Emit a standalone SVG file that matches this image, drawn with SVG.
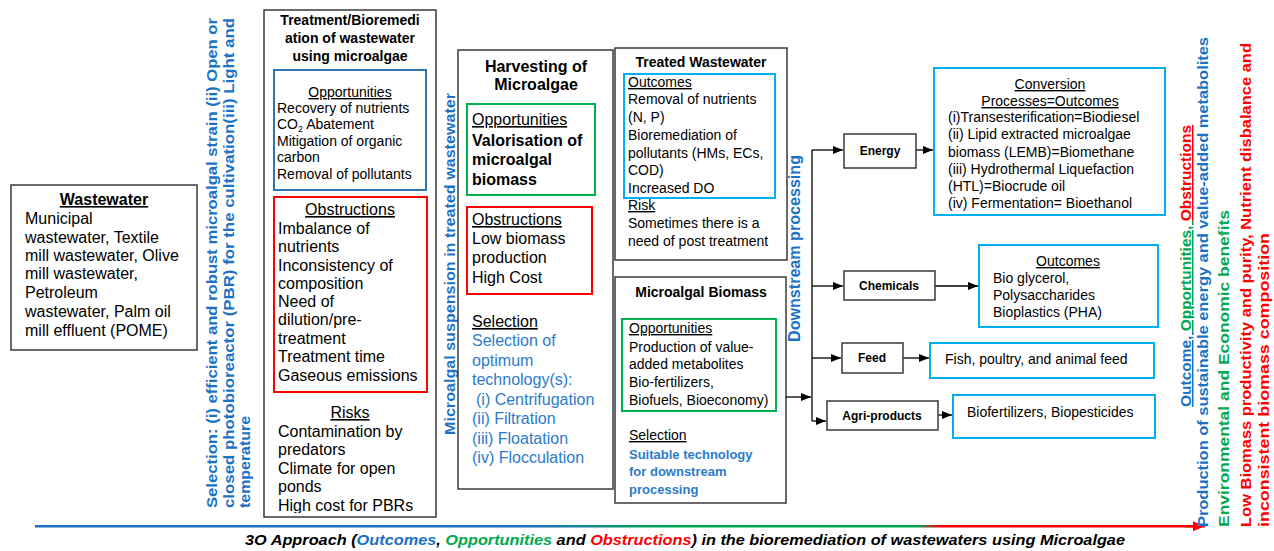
<svg xmlns="http://www.w3.org/2000/svg" width="1274" height="551" viewBox="0 0 1274 551">
<style>
text{font-family:"Liberation Sans",Arial,sans-serif;fill:#000}
.b{font-weight:bold}
.u{text-decoration:underline}
.c{text-anchor:middle}
.f14{font-size:14px}
.f16{font-size:16px}
.box{fill:#fff;stroke:#3a3a3a;stroke-width:1.5}
.bb{fill:none;stroke:#2e75b6;stroke-width:2}
.rb{fill:none;stroke:#ff0000;stroke-width:2}
.gb{fill:none;stroke:#00b050;stroke-width:2}
.cb{fill:#fff;stroke:#00b0f0;stroke-width:2}
.bt{fill:#2b7bcb}
.vb{fill:#1a72c6;font-weight:bold}
.vg{fill:#00a94f;font-weight:bold}
.vr{fill:#ff0000;font-weight:bold}
.con{stroke:#000;stroke-width:1.3;fill:none}
</style>
<defs>
<marker id="ah" markerUnits="userSpaceOnUse" markerWidth="10" markerHeight="8" refX="10" refY="4" orient="auto"><path d="M0,0 L10,4 L0,8 z" fill="#000"/></marker>
<marker id="rah" markerUnits="userSpaceOnUse" markerWidth="12" markerHeight="10" refX="12" refY="5" orient="auto"><path d="M0,0 L12,5 L0,10 z" fill="#ff0000"/></marker>
<linearGradient id="bg" gradientUnits="userSpaceOnUse" x1="35" y1="0" x2="1195" y2="0">
<stop offset="0" stop-color="#1f6fc5"/><stop offset="0.42" stop-color="#1f6fc5"/><stop offset="0.55" stop-color="#00a94f"/><stop offset="0.76" stop-color="#00a94f"/><stop offset="0.78" stop-color="#ff0000"/><stop offset="1" stop-color="#ff0000"/>
</linearGradient>
<clipPath id="tclip"><rect x="264" y="10" width="172" height="503"/></clipPath>
</defs>

<g id="wastewater">
<rect class="box" x="11" y="185" width="186" height="165"/>
<text class="b u c f16" x="104" y="205">Wastewater</text>
<text class="f16" x="25" y="224">Municipal</text>
<text class="f16" x="25" y="243">wastewater, Textile</text>
<text class="f16" x="25" y="261">mill wastewater, Olive</text>
<text class="f16" x="25" y="279">mill wastewater,</text>
<text class="f16" x="25" y="298">Petroleum</text>
<text class="f16" x="25" y="317">wastewater, Palm oil</text>
<text class="f16" x="25" y="336">mill effluent (POME)</text>
</g>

<g id="selection-label">
<text class="vb" font-size="14" transform="translate(217,508) rotate(-90)" textLength="490" lengthAdjust="spacingAndGlyphs">Selection: (i) efficient and robust microalgal strain (ii) Open or</text>
<text class="vb" font-size="14" transform="translate(234,508) rotate(-90)" textLength="490" lengthAdjust="spacingAndGlyphs">closed photobioreactor (PBR) for the cultivation(iii) Light and</text>
<text class="vb" font-size="14" transform="translate(250,508) rotate(-90)" textLength="92" lengthAdjust="spacingAndGlyphs">temperature</text>
</g>

<g id="treatment">
<rect class="box" x="264" y="10" width="172" height="507"/>
<text class="b c f14" x="350" y="25">Treatment/Bioremedi</text>
<text class="b c f14" x="350" y="43">ation of wastewater</text>
<text class="b c f14" x="350" y="61">using microalgae</text>
<rect class="bb" x="274" y="70" width="152" height="120"/>
<text class="u c f14" x="350" y="97">Opportunities</text>
<text class="f14" x="277" y="113">Recovery of nutrients</text>
<text class="f14" x="277" y="129">CO<tspan font-size="9" dy="3">2</tspan><tspan dy="-3"> Abatement</tspan></text>
<text class="f14" x="277" y="146">Mitigation of organic</text>
<text class="f14" x="277" y="162">carbon</text>
<text class="f14" x="277" y="179">Removal of pollutants</text>
<rect class="rb" x="274" y="197" width="153" height="195"/>
<text class="u c f16" x="350" y="215">Obstructions</text>
<text class="f16" x="278" y="234">Imbalance of</text>
<text class="f16" x="278" y="252">nutrients</text>
<text class="f16" x="278" y="271">Inconsistency of</text>
<text class="f16" x="278" y="289">composition</text>
<text class="f16" x="278" y="307">Need of</text>
<text class="f16" x="278" y="325">dilution/pre-</text>
<text class="f16" x="278" y="344">treatment</text>
<text class="f16" x="278" y="362">Treatment time</text>
<text class="f16" x="278" y="381">Gaseous emissions</text>
<text class="u c f16" x="350" y="418">Risks</text>
<text class="f16" x="278" y="437">Contamination by</text>
<text class="f16" x="278" y="455">predators</text>
<text class="f16" x="278" y="474">Climate for open</text>
<text class="f16" x="278" y="492">ponds</text>
<text class="f16" x="278" y="511" clip-path="url(#tclip)">High cost for PBRs</text>
</g>

<g id="suspension-label">
<text class="vb" font-size="14" transform="translate(455,435) rotate(-90)" textLength="342" lengthAdjust="spacingAndGlyphs">Microalgal suspension in treated wastewater</text>
</g>

<g id="harvesting">
<rect class="box" x="458" y="50" width="155" height="439"/>
<text class="b c f16" x="536" y="72">Harvesting of</text>
<text class="b c f16" x="536" y="90">Microalgae</text>
<rect class="gb" x="467" y="104" width="128" height="91"/>
<text class="u f16" x="472" y="125">Opportunities</text>
<text class="b f16" x="472" y="146">Valorisation of</text>
<text class="b f16" x="472" y="165">microalgal</text>
<text class="b f16" x="472" y="185">biomass</text>
<rect class="rb" x="467" y="207" width="125" height="87"/>
<text class="u f16" x="472" y="225">Obstructions</text>
<text class="f16" x="472" y="244">Low biomass</text>
<text class="f16" x="472" y="263">production</text>
<text class="f16" x="472" y="283">High Cost</text>
<text class="u f16" x="472" y="327">Selection</text>
<text class="bt f16" x="472" y="346">Selection of</text>
<text class="bt f16" x="472" y="366">optimum</text>
<text class="bt f16" x="472" y="385">technology(s):</text>
<text class="bt f16" x="476" y="405">(i) Centrifugation</text>
<text class="bt f16" x="472" y="424">(ii) Filtration</text>
<text class="bt f16" x="472" y="444">(iii) Floatation</text>
<text class="bt f16" x="472" y="463">(iv) Flocculation</text>
</g>

<g id="treated-wastewater">
<rect class="box" x="615" y="48" width="172" height="212"/>
<text class="b c f14" x="701" y="67">Treated Wastewater</text>
<rect class="cb" x="624" y="74" width="151" height="124"/>
<text class="u f14" x="628" y="87">Outcomes</text>
<text class="f14" x="628" y="104">Removal of nutrients</text>
<text class="f14" x="628" y="122">(N, P)</text>
<text class="f14" x="628" y="140">Bioremediation of</text>
<text class="f14" x="628" y="158">pollutants (HMs, ECs,</text>
<text class="f14" x="628" y="175">COD)</text>
<text class="f14" x="628" y="193">Increased DO</text>
<text class="u f14" x="628" y="210">Risk</text>
<text class="f14" x="628" y="228">Sometimes there is a</text>
<text class="f14" x="628" y="246">need of post treatment</text>
</g>

<g id="microalgal-biomass">
<rect class="box" x="615" y="277" width="171" height="226"/>
<text class="b c f14" x="701" y="297">Microalgal Biomass</text>
<rect class="gb" x="622" y="319" width="154" height="92"/>
<text class="u f14" x="629" y="333">Opportunities</text>
<text class="f14" x="629" y="352">Production of value-</text>
<text class="f14" x="629" y="369">added metabolites</text>
<text class="f14" x="629" y="387">Bio-fertilizers,</text>
<text class="f14" x="629" y="405">Biofuels, Bioeconomy)</text>
<text class="u f14" x="629" y="440">Selection</text>
<text class="bt b" font-size="13" x="629" y="459">Suitable technology</text>
<text class="bt b" font-size="13" x="629" y="476">for downstream</text>
<text class="bt b" font-size="13" x="629" y="494">processing</text>
</g>

<g id="downstream-label">
<text class="vb" font-size="16" transform="translate(800,342) rotate(-90)" textLength="187" lengthAdjust="spacingAndGlyphs">Downstream processing</text>
</g>

<g id="connectors">
<line class="con" x1="812" y1="150" x2="812" y2="421"/>
<line class="con" x1="786" y1="397" x2="811" y2="397" marker-end="url(#ah)"/>
<line class="con" x1="812" y1="150" x2="843" y2="150" marker-end="url(#ah)"/>
<line class="con" x1="812" y1="286" x2="843" y2="286" marker-end="url(#ah)"/>
<line class="con" x1="812" y1="358" x2="841" y2="358" marker-end="url(#ah)"/>
<line class="con" x1="812" y1="421" x2="826" y2="421" marker-end="url(#ah)"/>
<line class="con" x1="916" y1="150" x2="933" y2="150" marker-end="url(#ah)"/>
<line class="con" x1="935" y1="286" x2="978" y2="286" marker-end="url(#ah)"/>
<line class="con" x1="903" y1="358" x2="929" y2="358" marker-end="url(#ah)"/>
<line class="con" x1="938" y1="415" x2="952" y2="415" marker-end="url(#ah)"/>
<rect x="35" y="525" width="1160" height="2.5" fill="url(#bg)"/>
<line x1="1185" y1="526.2" x2="1205" y2="526.2" stroke="#ff0000" stroke-width="2.5" marker-end="url(#rah)"/>
</g>

<g id="energy">
<rect class="box" x="844" y="134" width="72" height="34"/>
<text class="b c" font-size="12" x="880" y="155">Energy</text>
</g>
<g id="chemicals">
<rect class="box" x="844" y="271" width="91" height="29"/>
<text class="b c" font-size="12" x="889" y="290">Chemicals</text>
</g>
<g id="feed">
<rect class="box" x="842" y="343" width="61" height="30"/>
<text class="b c" font-size="12" x="872" y="362">Feed</text>
</g>
<g id="agri-products">
<rect class="box" x="827" y="401" width="111" height="29"/>
<text class="b c" font-size="12" x="882" y="420">Agri-products</text>
</g>

<g id="conversion">
<rect class="cb" x="934" y="68" width="231" height="147"/>
<text class="u c f14" x="1050" y="89">Conversion</text>
<text class="u c f14" x="1050" y="106">Processes=Outcomes</text>
<text class="f14" x="948" y="122">(i)Transesterification=Biodiesel</text>
<text class="f14" x="948" y="139">(ii) Lipid extracted microalgae</text>
<text class="f14" x="948" y="157">biomass (LEMB)=Biomethane</text>
<text class="f14" x="948" y="174">(iii) Hydrothermal Liquefaction</text>
<text class="f14" x="948" y="191">(HTL)=Biocrude oil</text>
<text class="f14" x="948" y="208">(iv) Fermentation= Bioethanol</text>
</g>

<g id="chemical-outcomes">
<rect class="cb" x="979" y="245" width="179" height="82"/>
<text class="u c f14" x="1068" y="266">Outcomes</text>
<text class="f14" x="993" y="283">Bio glycerol,</text>
<text class="f14" x="993" y="300">Polysaccharides</text>
<text class="f14" x="993" y="317">Bioplastics (PHA)</text>
</g>

<g id="feed-outcome">
<rect class="cb" x="930" y="343" width="224" height="35"/>
<text class="f14" x="945" y="364">Fish, poultry, and animal feed</text>
</g>

<g id="agri-outcome">
<rect class="cb" x="953" y="395" width="202" height="43"/>
<text class="f14" x="967" y="417">Biofertilizers, Biopesticides</text>
</g>

<g id="right-labels">
<text font-size="15" class="b" transform="translate(1191,407) rotate(-90)" textLength="282" lengthAdjust="spacingAndGlyphs"><tspan class="vb u">Outcome, </tspan><tspan class="vg u">Opportunities, </tspan><tspan class="vr u">Obstructions</tspan></text>
<text class="vb" font-size="15" transform="translate(1208,527) rotate(-90)" textLength="490" lengthAdjust="spacingAndGlyphs">Production of sustainable energy and value-added metabolites</text>
<text class="vg" font-size="15" transform="translate(1229,527) rotate(-90)" textLength="317" lengthAdjust="spacingAndGlyphs">Environmental and Economic benefits</text>
<text class="vr" font-size="15" transform="translate(1251,527) rotate(-90)" textLength="484" lengthAdjust="spacingAndGlyphs">Low Biomass productivity and purity, Nutrient disbalance and</text>
<text class="vr" font-size="15" transform="translate(1269,527) rotate(-90)" textLength="294" lengthAdjust="spacingAndGlyphs">inconsistent biomass composition</text>
</g>

<g id="caption">
<text class="b" font-size="15" font-style="italic" x="245" y="545" textLength="880" lengthAdjust="spacingAndGlyphs">3O Approach (<tspan style="fill:#1a72c6">Outcomes</tspan>, <tspan style="fill:#00a94f">Opportunities</tspan> and <tspan style="fill:#ff0000">Obstructions</tspan>) in the bioremediation of wastewaters using Microalgae</text>
</g>
</svg>
